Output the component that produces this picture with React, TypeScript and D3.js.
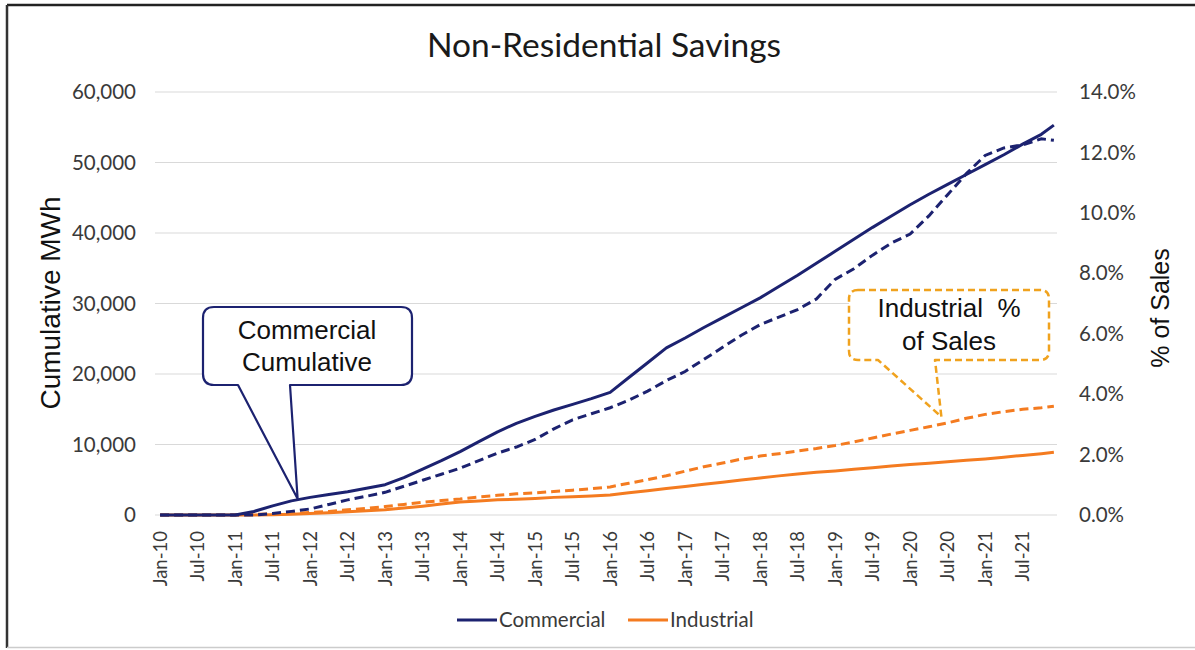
import React from "react";
import * as d3 from "d3";

// ---- data (quarterly readings, Jan-10 .. Dec-21) ----
const periods = [
  "Jan-10","Apr-10","Jul-10","Oct-10",
  "Jan-11","Apr-11","Jul-11","Oct-11",
  "Jan-12","Apr-12","Jul-12","Oct-12",
  "Jan-13","Apr-13","Jul-13","Oct-13",
  "Jan-14","Apr-14","Jul-14","Oct-14",
  "Jan-15","Apr-15","Jul-15","Oct-15",
  "Jan-16","Apr-16","Jul-16","Oct-16",
  "Jan-17","Apr-17","Jul-17","Oct-17",
  "Jan-18","Apr-18","Jul-18","Oct-18",
  "Jan-19","Apr-19","Jul-19","Oct-19",
  "Jan-20","Apr-20","Jul-20","Oct-20",
  "Jan-21","Apr-21","Jul-21","Oct-21",
  "Dec-21",
];

// Cumulative MWh (left axis)
const commercialMWh = [
  0, 0, 0, 0,
  0, 500, 1300, 2000,
  2500, 2900, 3300, 3800,
  4300, 5300, 6500, 7700,
  9000, 10400, 11800, 13000,
  14000, 14900, 15700, 16500,
  17400, 19500, 21600, 23700,
  25100, 26600, 28000, 29400,
  30800, 32400, 34000, 35700,
  37400, 39100, 40800, 42400,
  44000, 45500, 46900, 48300,
  49700, 51100, 52600, 54000,
  55300,
];
const industrialMWh = [
  0, 0, 0, 0,
  0, 0, 30, 100,
  200, 330, 470, 600,
  750, 1000, 1250, 1550,
  1850, 2000, 2150, 2250,
  2350, 2500, 2600, 2700,
  2850, 3150, 3450, 3750,
  4050, 4350, 4650, 4950,
  5250, 5550, 5800, 6050,
  6250, 6500, 6700, 6950,
  7150, 7350, 7550, 7750,
  7950, 8200, 8450, 8700,
  8900,
];
// % of Sales (right axis)
const commercialPct = [
  0, 0, 0, 0,
  0, 0, 0.05, 0.12,
  0.2, 0.35, 0.5, 0.62,
  0.75, 0.95, 1.15, 1.35,
  1.55, 1.8, 2.05, 2.25,
  2.5, 2.85, 3.15, 3.35,
  3.55, 3.8, 4.1, 4.45,
  4.75, 5.15, 5.55, 5.95,
  6.3, 6.55, 6.8, 7.15,
  7.8, 8.15, 8.6, 9.0,
  9.3, 9.9, 10.6, 11.3,
  11.9, 12.15, 12.25, 12.45,
  12.4,
];
const industrialPct = [
  0, 0, 0, 0,
  0, 0.02, 0.04, 0.06,
  0.08, 0.12, 0.17, 0.22,
  0.28, 0.35, 0.42, 0.48,
  0.53, 0.6, 0.65, 0.7,
  0.73, 0.78, 0.82, 0.87,
  0.93, 1.05, 1.17, 1.3,
  1.45, 1.6, 1.72, 1.85,
  1.95, 2.03, 2.12, 2.2,
  2.3, 2.42, 2.55, 2.68,
  2.8, 2.92, 3.05, 3.2,
  3.33, 3.42, 3.5, 3.55,
  3.6,
];

const xTickLabels = [
  "Jan-10","Jul-10","Jan-11","Jul-11","Jan-12","Jul-12","Jan-13","Jul-13",
  "Jan-14","Jul-14","Jan-15","Jul-15","Jan-16","Jul-16","Jan-17","Jul-17",
  "Jan-18","Jul-18","Jan-19","Jul-19","Jan-20","Jul-20","Jan-21","Jul-21",
];
const leftTicks = [0, 10000, 20000, 30000, 40000, 50000, 60000];
const rightTicks = [0, 2, 4, 6, 8, 10, 12, 14];

const title = "Non-Residential Savings";
const leftTitle = "Cumulative MWh";
const rightTitle = "% of Sales";
const seriesNames = ["Commercial", "Industrial"];

// ---- helpers ----
const MONTHS = ["Jan","Feb","Mar","Apr","May","Jun","Jul","Aug","Sep","Oct","Nov","Dec"];
function monthIndex(label: string): number {
  const [m, y] = label.split("-");
  return (parseInt(y, 10) - 10) * 12 + MONTHS.indexOf(m);
}

const NAVY = "#1c2270";
const ORANGE = "#f47b20";
const GOLD = "#f0a21e";
const GRID = "#d9d9d9";
const TEXT = "#3a3a3a";
const CAL = "Lato, 'Open Sans', sans-serif";
const ARIAL = "'Liberation Sans', Arial, sans-serif";

export default function App() {
  const W = 1195, H = 650;
  const plotL = 157, plotR = 1057, plotT = 92, plotB = 515;

  const x = d3.scaleLinear().domain([-0.5, 143.5]).range([plotL, plotR]);
  const yL = d3.scaleLinear().domain([0, 60000]).range([plotB, plotT]);
  const yR = d3.scaleLinear().domain([0, 14]).range([plotB, plotT]);

  const mIdx = periods.map(monthIndex);

  const lineL = d3.line<number>().x((_, i) => x(mIdx[i])).y((d) => yL(d));
  const lineR = d3.line<number>().x((_, i) => x(mIdx[i])).y((d) => yR(d));

  // commercial callout (tip anchored to the commercial line)
  const cTipX = x(monthIndex("Nov-11"));
  const cTipY = yL(2300);
  const cb = { l: 203, r: 412, t: 307, b: 385, rr: 11, pl: 238, pr: 290 };
  const cPath = `M${cb.l + cb.rr},${cb.t} H${cb.r - cb.rr} Q${cb.r},${cb.t} ${cb.r},${cb.t + cb.rr} V${cb.b - cb.rr} Q${cb.r},${cb.b} ${cb.r - cb.rr},${cb.b} H${cb.pr} L${cTipX},${cTipY} L${cb.pl},${cb.b} H${cb.l + cb.rr} Q${cb.l},${cb.b} ${cb.l},${cb.b - cb.rr} V${cb.t + cb.rr} Q${cb.l},${cb.t} ${cb.l + cb.rr},${cb.t} Z`;

  // industrial callout (tip anchored above the industrial % line)
  const iTipX = x(monthIndex("Jun-20"));
  const iTipY = yR(3.25);
  const ib = { l: 849, r: 1049, t: 290, b: 360, rr: 9, pl: 878, pr: 935 };
  const iPath = `M${ib.l + ib.rr},${ib.t} H${ib.r - ib.rr} Q${ib.r},${ib.t} ${ib.r},${ib.t + ib.rr} V${ib.b - ib.rr} Q${ib.r},${ib.b} ${ib.r - ib.rr},${ib.b} H${ib.pr} L${iTipX},${iTipY} L${ib.pl},${ib.b} H${ib.l + ib.rr} Q${ib.l},${ib.b} ${ib.l},${ib.b - ib.rr} V${ib.t + ib.rr} Q${ib.l},${ib.t} ${ib.l + ib.rr},${ib.t} Z`;

  const fmt = d3.format(",");

  return (
    <svg
      width={W}
      height={H}
      style={{ position: "absolute", left: 0, top: 0, background: "#fff" }}
    >
      {/* frame */}
      <line x1={7} y1={5} x2={W} y2={5} stroke="#222" strokeWidth={2.5} />
      <line x1={7} y1={5} x2={7} y2={648} stroke="#333" strokeWidth={2.5} />
      <line x1={7} y1={647.5} x2={W} y2={647.5} stroke="#ccc" strokeWidth={1.5} />

      {/* title */}
      <text x={604} y={57} textAnchor="middle" fontFamily={CAL} fontSize={33.5} fill="#1a1a1a">
        {title}
      </text>

      {/* gridlines */}
      {leftTicks.map((t) => (
        <line key={t} x1={plotL - 2} x2={plotR} y1={yL(t)} y2={yL(t)} stroke={GRID} strokeWidth={1.2} />
      ))}

      {/* left ticks */}
      {leftTicks.map((t) => (
        <text key={"l" + t} x={136} y={yL(t)} dy="0.35em" textAnchor="end" fontFamily={CAL} fontSize={20.5} fill={TEXT}>
          {fmt(t)}
        </text>
      ))}
      {/* right ticks */}
      {rightTicks.map((t) => (
        <text key={"r" + t} x={1079} y={yR(t)} dy="0.35em" textAnchor="start" fontFamily={CAL} fontSize={20.5} fill={TEXT}>
          {t.toFixed(1) + "%"}
        </text>
      ))}

      {/* x tick labels */}
      {xTickLabels.map((lab) => {
        const xx = x(monthIndex(lab));
        return (
          <text key={lab} transform={`translate(${xx},531) rotate(-90)`} dy="0.35em" textAnchor="end" fontFamily={CAL} fontSize={18.5} fill={TEXT}>
            {lab}
          </text>
        );
      })}

      {/* axis titles */}
      <text transform={`translate(50,${303}) rotate(-90)`} dy="0.35em" textAnchor="middle" fontFamily={ARIAL} fontSize={28} fill="#111">
        {leftTitle}
      </text>
      <text transform={`translate(1160,${308}) rotate(-90)`} dy="0.35em" textAnchor="middle" fontFamily={ARIAL} fontSize={25} fill="#111">
        {rightTitle}
      </text>

      {/* series */}
      <path d={lineR(industrialPct) || ""} fill="none" stroke={ORANGE} strokeWidth={3} strokeDasharray="9,5" />
      <path d={lineL(industrialMWh) || ""} fill="none" stroke={ORANGE} strokeWidth={3} strokeLinejoin="round" />
      <path d={lineR(commercialPct) || ""} fill="none" stroke={NAVY} strokeWidth={3} strokeDasharray="9,5" />
      <path d={lineL(commercialMWh) || ""} fill="none" stroke={NAVY} strokeWidth={3} strokeLinejoin="round" />

      {/* callouts */}
      <path d={cPath} fill="#fff" stroke={NAVY} strokeWidth={2.2} strokeLinejoin="round" />
      <text x={307} y={339} textAnchor="middle" fontFamily={ARIAL} fontSize={26} fill="#111">Commercial</text>
      <text x={307} y={371} textAnchor="middle" fontFamily={ARIAL} fontSize={26} fill="#111">Cumulative</text>

      <path d={iPath} fill="#fff" stroke={GOLD} strokeWidth={2.5} strokeDasharray="7,4" strokeLinejoin="round" />
      <text x={949} y={317} textAnchor="middle" fontFamily={ARIAL} fontSize={26} fill="#111" style={{ whiteSpace: "pre" }}>{"Industrial  %"}</text>
      <text x={949} y={350} textAnchor="middle" fontFamily={ARIAL} fontSize={26} fill="#111">of Sales</text>

      {/* legend */}
      <line x1={457} x2={497} y1={620} y2={620} stroke={NAVY} strokeWidth={3} />
      <text x={499} y={620} dy="0.35em" fontFamily={CAL} fontSize={20.5} fill={TEXT}>{seriesNames[0]}</text>
      <line x1={628} x2={668} y1={620} y2={620} stroke={ORANGE} strokeWidth={3} />
      <text x={670} y={620} dy="0.35em" fontFamily={CAL} fontSize={20.5} fill={TEXT}>{seriesNames[1]}</text>
    </svg>
  );
}
